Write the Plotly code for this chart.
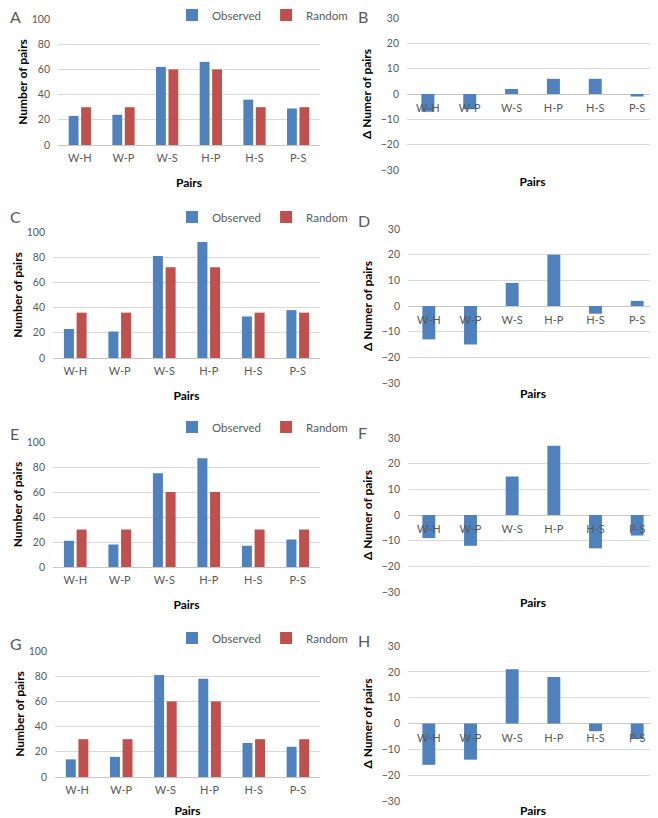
import plotly.graph_objects as go

pairs = ["W-H", "W-P", "W-S", "H-P", "H-S", "P-S"]

obs_A = [23, 24, 62, 66, 36, 29]
rand_A = [30, 30, 60, 60, 30, 30]
delta_B = [-7, -6, 2, 6, 6, -1]

obs_C = [23, 21, 81, 92, 33, 38]
rand_C = [36, 36, 72, 72, 36, 36]
delta_D = [-13, -15, 9, 20, -3, 2]

obs_E = [21, 18, 75, 87, 17, 22]
rand_E = [30, 30, 60, 60, 30, 30]
delta_F = [-9, -12, 15, 27, -13, -8]

obs_G = [14, 16, 81, 78, 27, 24]
rand_G = [30, 30, 60, 60, 30, 30]
delta_H = [-16, -14, 21, 18, -3, -6]

# page has an 8px body margin: figure spans page px 8..658 / 8..818
OFF = 8
W, H = 658 - OFF, 818 - OFF
BLUE = "#4F81BD"
RED = "#C0504D"
GRID = "#D9D9D9"
TICK = "#595959"
FONT = "Lato, Open Sans, sans-serif"


def fx(px):
    return (px - OFF) / W


def fy(px):
    return 1 - (px - OFF) / H


fig = go.Figure()
layout = dict(
    width=W, height=H, margin=dict(l=0, r=0, t=0, b=0, autoexpand=False),
    paper_bgcolor="white", plot_bgcolor="white",
    barmode="overlay", showlegend=True,
    font=dict(family=FONT, color=TICK, size=11),
)

# left panels: (obs, rand, x0, x1, ytop, ybot, legend y, letter y)
left = [
    (obs_A, rand_A, 58, 320, 19, 145, 15, 17, "A"),
    (obs_C, rand_C, 53, 320, 232, 358, 217, 216, "C"),
    (obs_E, rand_E, 53, 320, 442, 567, 427, 433, "E"),
    (obs_G, rand_G, 55, 320, 651, 777, 638, 643, "G"),
]
# right panels: (delta, x0, x1, ytop, ybot, letter y)
right = [
    (delta_B, 407, 658, 18, 170, 17, "B"),
    (delta_D, 408, 658, 229, 383, 220, "D"),
    (delta_F, 408, 658, 438, 592, 432, "F"),
    (delta_H, 408, 658, 646, 801, 640, "H"),
]

annotations = []
ax = 1
for i, (obs, rnd, x0, x1, yt, yb, ly, lty, letter) in enumerate(left):
    xa = "x" if ax == 1 else f"x{ax}"
    ya = "y" if ax == 1 else f"y{ax}"
    xk = "xaxis" if ax == 1 else f"xaxis{ax}"
    yk = "yaxis" if ax == 1 else f"yaxis{ax}"
    lg = "legend" if i == 0 else f"legend{i + 1}"
    fig.add_trace(go.Bar(x=pairs, y=obs, name="Observed", marker_color=BLUE,
                         marker_line_width=0, width=0.225, offset=-0.255,
                         xaxis=xa, yaxis=ya, legend=lg, hoverinfo="skip"))
    fig.add_trace(go.Bar(x=pairs, y=rnd, name="Random", marker_color=RED,
                         marker_line_width=0, width=0.225, offset=0.03,
                         xaxis=xa, yaxis=ya, legend=lg, hoverinfo="skip"))
    layout[xk] = dict(domain=[fx(x0), fx(x1)], anchor=ya, showgrid=False,
                      showline=True, linecolor="#C8C8C8", linewidth=1,
                      ticks="", ticklabelstandoff=3,
                      tickfont=dict(size=11, color=TICK),
                      title=dict(text="<b>Pairs</b>", standoff=15,
                                 font=dict(size=12, color="black")),
                      automargin=False, fixedrange=True)
    layout[yk] = dict(domain=[fy(yb), fy(yt)], anchor=xa, range=[0, 100],
                      tickvals=[0, 20, 40, 60, 80, 100], showgrid=True,
                      gridcolor=GRID, zeroline=False, showline=False, ticks="",
                      ticklabelstandoff=7,
                      tickfont=dict(size=10.5, color=TICK),
                      title=dict(text="<b>Number of pairs</b>", standoff=1,
                                 font=dict(size=12, color="black")),
                      automargin=False, fixedrange=True)
    layout[lg] = dict(orientation="h", x=fx(172), xanchor="left", y=fy(ly),
                      yanchor="middle", bgcolor="rgba(0,0,0,0)",
                      font=dict(size=11.5, color=TICK), itemwidth=30,
                      tracegroupgap=0)
    annotations.append(dict(text=letter, x=fx(OFF), y=fy(lty), xref="paper",
                            yref="paper", xanchor="left", yanchor="middle",
                            showarrow=False,
                            font=dict(size=16, color=TICK, family=FONT)))
    ax += 1

for (delta, x0, x1, yt, yb, lty, letter) in right:
    xa, ya = f"x{ax}", f"y{ax}"
    xk, yk = f"xaxis{ax}", f"yaxis{ax}"
    fig.add_trace(go.Bar(x=pairs, y=delta, name="Δ", marker_color=BLUE,
                         marker_line_width=0, width=0.31, showlegend=False,
                         xaxis=xa, yaxis=ya, hoverinfo="skip"))
    mid = (fy(yb) + fy(yt)) / 2
    layout[xk] = dict(domain=[fx(x0), fx(x1)], anchor="free", position=mid,
                      showgrid=False, showline=False, ticks="",
                      ticklabelstandoff=6,
                      tickfont=dict(size=11, color=TICK), layer="above traces",
                      title=dict(text="<b>Pairs</b>", standoff=64,
                                 font=dict(size=12, color="black")),
                      automargin=False, fixedrange=True)
    layout[yk] = dict(domain=[fy(yb), fy(yt)], anchor=xa, range=[-30, 30],
                      tickvals=[-30, -20, -10, 0, 10, 20, 30], showgrid=True,
                      gridcolor=GRID, zeroline=True, zerolinecolor="#C8C8C8",
                      zerolinewidth=1, showline=False, ticks="",
                      ticklabelstandoff=7,
                      tickfont=dict(size=10.5, color=TICK),
                      title=dict(text="<b>Δ Numer of pairs</b>", standoff=6,
                                 font=dict(size=12, color="black")),
                      automargin=False, fixedrange=True)
    annotations.append(dict(text=letter, x=fx(356), y=fy(lty), xref="paper",
                            yref="paper", xanchor="left", yanchor="middle",
                            showarrow=False,
                            font=dict(size=16, color=TICK, family=FONT)))
    ax += 1

layout["annotations"] = annotations
fig.update_layout(**layout)
fig.write_html("out.html")
